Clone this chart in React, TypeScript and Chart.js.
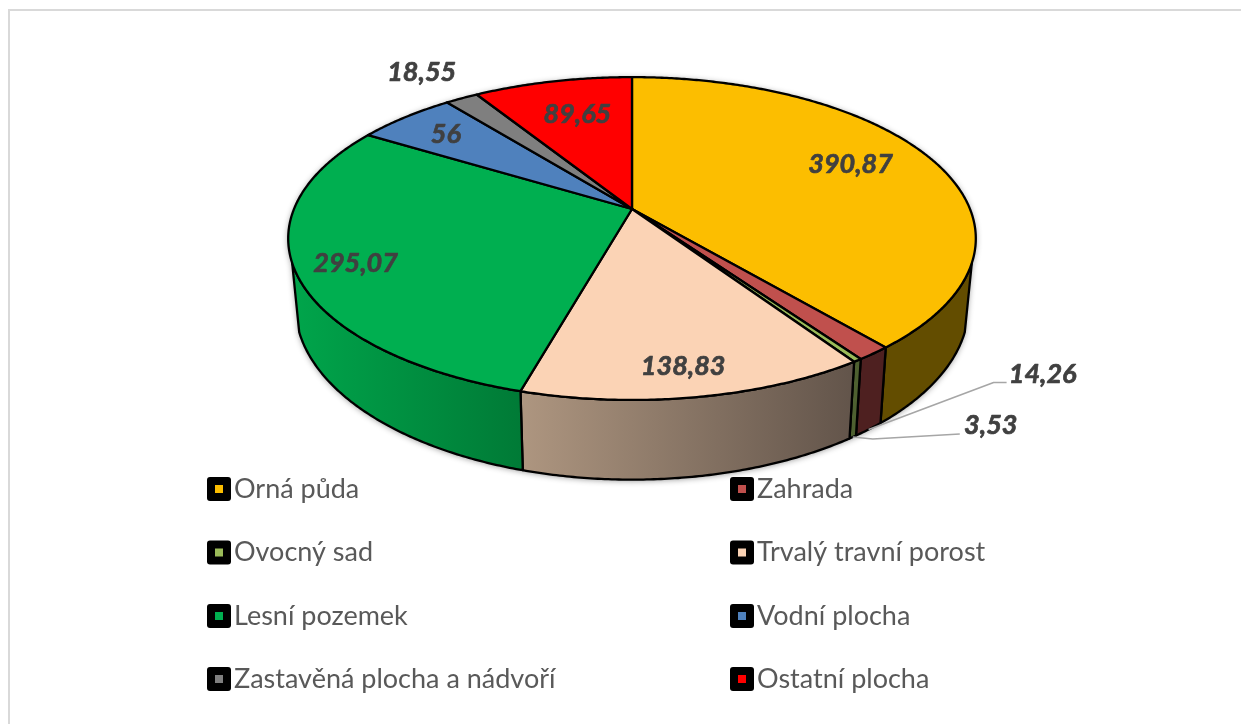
import React, { useEffect, useRef } from "react";
import { Chart, registerables } from "chart.js";

Chart.register(...registerables);

const categories = [
  "Orná půda",
  "Zahrada",
  "Ovocný sad",
  "Trvalý travní porost",
  "Lesní pozemek",
  "Vodní plocha",
  "Zastavěná plocha a nádvoří",
  "Ostatní plocha",
];
const areaValues = [390.87, 14.26, 3.53, 138.83, 295.07, 56, 18.55, 89.65];
const valueLabels = ["390,87", "14,26", "3,53", "138,83", "295,07", "56", "18,55", "89,65"];

const topColors = ["#FCBE00", "#C0504D", "#9BBB59", "#FBD3B5", "#00AF50", "#4F81BD", "#7F7F7F", "#FF0000"];
const sideColorStart = ["#634D00", "#4E2020", "#4E6030", "#AE9680", "#00A54B", "#2E4C70", "#4C4C4C", "#990000"];
const sideColorEnd = ["#634D00", "#4E2020", "#4E6030", "#62544A", "#007A36", "#2E4C70", "#4C4C4C", "#990000"];

// Projection of the pie disc (perspective view), top face and bottom face.
const PERSPECTIVE = 0.183;
const TOP_FACE = { cx: 632, cy: 209, rx: 338, ry: 156 };
const BOTTOM_FACE = { cx: 632, cy: 274, rx: 331, ry: 168 };
const SIDE_FROM = (109 * Math.PI) / 180;
const SIDE_TO = (251 * Math.PI) / 180;

// Data label placement: radial position on the slice (null = leader line from the rim), plus a nudge.
const labelRadius = [0.72, null, null, 0.86, 0.83, 0.8, 1.28, 0.72];
const labelNudge = [[0, -8], [174, -55], [138, -12], [-3, 0], [0, 4], [-1, 0], [0, 0], [5, 1]];
const leaderBends = [null, [[125, -47], [138, -47]], [[20, 2], [107, -3]], null, null, null, null, null];

const LEGEND_COLUMNS = [207, 730];
const LEGEND_ROWS = [489, 552.5, 616, 679];

type Face = { cx: number; cy: number; rx: number; ry: number };

function project(face: Face, theta: number, r = 1): [number, number] {
  const u = r * Math.sin(theta);
  const v = -r * Math.cos(theta);
  const d = 1 - PERSPECTIVE * v;
  return [face.cx + (face.rx * u) / d, face.cy + (face.ry * v) / d];
}

function arcPoints(face: Face, a: number, b: number): [number, number][] {
  const steps = Math.max(2, Math.ceil(Math.abs(b - a) / (Math.PI / 360)));
  const pts: [number, number][] = [];
  for (let i = 0; i <= steps; i++) pts.push(project(face, a + ((b - a) * i) / steps));
  return pts;
}

function tracePoly(ctx: CanvasRenderingContext2D, pts: [number, number][]) {
  ctx.beginPath();
  pts.forEach(([x, y], i) => (i ? ctx.lineTo(x, y) : ctx.moveTo(x, y)));
  ctx.closePath();
}

const pie3d = {
  id: "pie3d",
  beforeDatasetDraw(chart: any) {
    const ctx: CanvasRenderingContext2D = chart.ctx;
    const arcs = chart.getDatasetMeta(0).data;
    const spans = arcs.map((el: any) => {
      const p = el.getProps(["startAngle", "endAngle"], true);
      return [p.startAngle + Math.PI / 2, p.endAngle + Math.PI / 2];
    });

    ctx.save();
    ctx.lineJoin = "round";

    // soft shadow below the rim
    const hull = [
      ...arcPoints(TOP_FACE, SIDE_TO, SIDE_FROM + 2 * Math.PI),
      ...arcPoints(BOTTOM_FACE, SIDE_FROM, SIDE_TO),
    ];
    ctx.save();
    ctx.shadowColor = "rgba(0,0,0,0.45)";
    ctx.shadowBlur = 6;
    ctx.shadowOffsetY = 1;
    ctx.fillStyle = "#555";
    tracePoly(ctx, hull);
    ctx.fill();
    ctx.restore();

    // side wall
    spans.forEach(([s, e]: number[], i: number) => {
      const a = Math.max(s, SIDE_FROM);
      const b = Math.min(e, SIDE_TO);
      if (b <= a) return;
      const top = arcPoints(TOP_FACE, a, b);
      const bottom = arcPoints(BOTTOM_FACE, a, b).reverse();
      const pts = [...top, ...bottom];
      const xs = pts.map((p) => p[0]);
      const g = ctx.createLinearGradient(Math.min(...xs), 0, Math.max(...xs), 0);
      g.addColorStop(0, sideColorStart[i]);
      g.addColorStop(1, sideColorEnd[i]);
      ctx.fillStyle = g;
      ctx.strokeStyle = "#000";
      ctx.lineWidth = 2.3;
      tracePoly(ctx, pts);
      ctx.fill();
      ctx.stroke();
    });

    // top face
    spans.forEach(([s, e]: number[], i: number) => {
      const pts: [number, number][] = [[TOP_FACE.cx, TOP_FACE.cy], ...arcPoints(TOP_FACE, s, e)];
      ctx.fillStyle = arcs[i].options.backgroundColor;
      ctx.strokeStyle = "#000";
      ctx.lineWidth = 2.3;
      tracePoly(ctx, pts);
      ctx.fill();
      ctx.stroke();
    });

    // leader lines and data labels
    ctx.font = "italic 700 27px Lato";
    ctx.textAlign = "center";
    ctx.textBaseline = "middle";
    spans.forEach(([s, e]: number[], i: number) => {
      const mid = (s + e) / 2;
      const r = labelRadius[i];
      const [ax, ay] = r === null ? project(BOTTOM_FACE, mid) : project(TOP_FACE, mid, r);
      const bends = leaderBends[i];
      if (bends) {
        ctx.strokeStyle = "#A6A6A6";
        ctx.lineWidth = 1.6;
        ctx.beginPath();
        ctx.moveTo(ax, ay);
        bends.forEach(([dx, dy]) => ctx.lineTo(ax + dx, ay + dy));
        ctx.stroke();
      }
      const tx = ax + labelNudge[i][0];
      const ty = ay + labelNudge[i][1];
      ctx.fillStyle = "#404040";
      ctx.strokeStyle = "#404040";
      ctx.lineWidth = 0.7;
      ctx.fillText(valueLabels[i], tx, ty);
      ctx.strokeText(valueLabels[i], tx, ty);
    });
    ctx.restore();
    return false;
  },
  afterDraw(chart: any) {
    const ctx: CanvasRenderingContext2D = chart.ctx;
    ctx.save();
    // chart frame
    ctx.strokeStyle = "#D9D9D9";
    ctx.lineWidth = 2;
    ctx.beginPath();
    ctx.moveTo(9, chart.height);
    ctx.lineTo(9, 10);
    ctx.lineTo(chart.width, 10);
    ctx.stroke();

    // legend in two columns, read row by row
    ctx.font = "27px Lato";
    ctx.textAlign = "left";
    ctx.textBaseline = "middle";
    categories.forEach((name, i) => {
      const x = LEGEND_COLUMNS[i % 2];
      const y = LEGEND_ROWS[Math.floor(i / 2)];
      ctx.fillStyle = "#000";
      ctx.beginPath();
      (ctx as any).roundRect(x, y - 12, 24, 24, 3);
      ctx.fill();
      ctx.fillStyle = topColors[i];
      ctx.fillRect(x + 8, y - 4, 8, 8);
      ctx.fillStyle = "#595959";
      ctx.fillText(name, x + 27, y);
    });
    ctx.restore();
  },
};

export default function App() {
  const ref = useRef<HTMLCanvasElement>(null);
  useEffect(() => {
    const chart = new Chart(ref.current!, {
      type: "pie",
      data: {
        labels: categories,
        datasets: [{ data: areaValues, backgroundColor: topColors, borderColor: "#000", borderWidth: 2 }],
      },
      options: {
        responsive: false,
        animation: false,
        plugins: { legend: { display: false }, tooltip: { enabled: false } },
      },
      plugins: [pie3d],
    } as any);
    return () => chart.destroy();
  }, []);
  return (
    <div style={{ position: "fixed", left: 0, top: 0, width: 1241, height: 724, background: "#fff" }}>
      <canvas ref={ref} width={1241} height={724} style={{ display: "block" }} />
    </div>
  );
}
